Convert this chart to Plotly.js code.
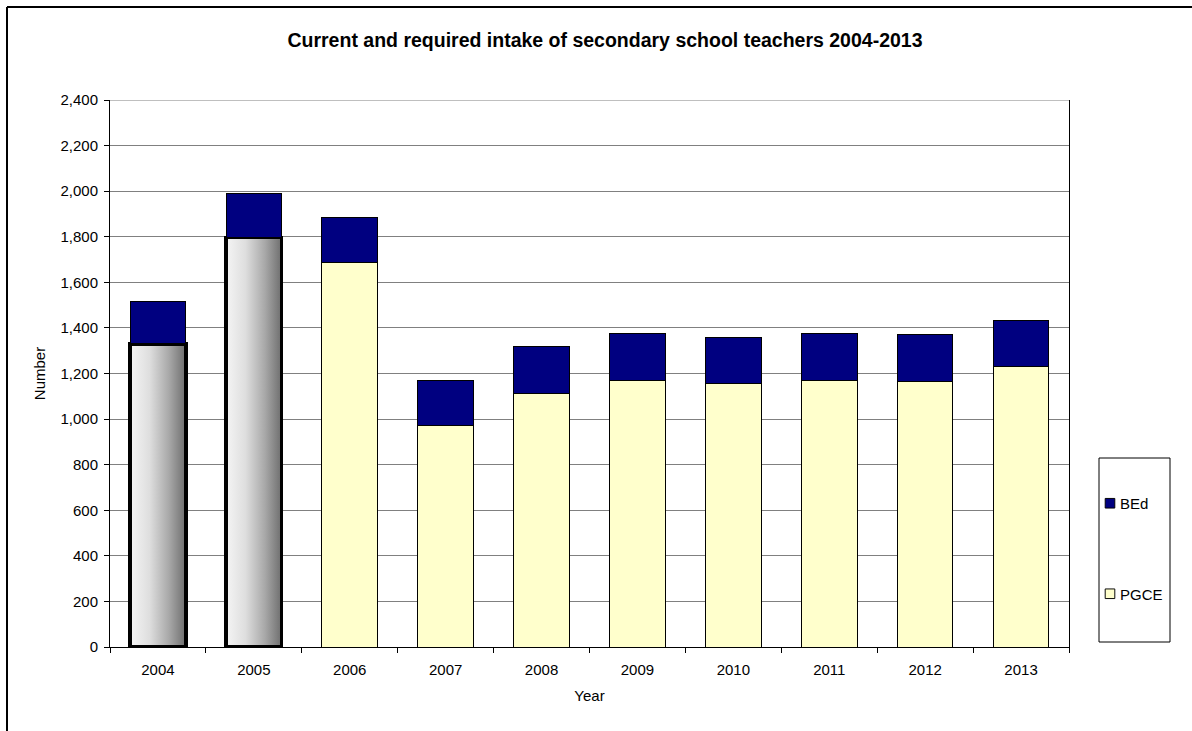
<!DOCTYPE html>
<html>
<head>
<meta charset="utf-8">
<script src="https://cdn.plot.ly/plotly-3.0.1.min.js"></script>
<style>
  html, body { margin: 0; padding: 0; background: #fff; overflow: hidden; }
  #chart { width: 1192px; height: 731px; }
</style>
</head>
<body>
<div id="chart"></div>
<script>
// ---- data ----
const years = ['2004', '2005', '2006', '2007', '2008', '2009', '2010', '2011', '2012', '2013'];
const pgce  = [1330, 1796, 1686, 970, 1114, 1169, 1158, 1169, 1167, 1231];
const bed   = [187, 194, 199, 201, 203, 205, 202, 205, 202, 201];
const currentYears = ['2004', '2005'];   // actual intake, drawn with gradient fill
const yTickVals = [0, 200, 400, 600, 800, 1000, 1200, 1400, 1600, 1800, 2000, 2200, 2400];

const FONT = 'Liberation Sans, Arial, sans-serif';
const FS = 15;
const PGCE_COLOR = '#FFFFCC';
const BED_COLOR = '#000080';
const isCurrent = years.map(y => currentYears.includes(y));

const tracePGCE = {
  type: 'bar', name: 'PGCE', x: years, y: pgce,
  legendgroup: 'p', legendrank: 2,
  marker: {
    color: isCurrent.map(c => c ? '#bdbdbd' : PGCE_COLOR),
    line: { color: '#000', width: isCurrent.map(c => c ? 3.5 : 1) }
  },
  hoverinfo: 'x+y+name'
};
const traceBEd = {
  type: 'bar', name: 'BEd', x: years, y: bed,
  legendgroup: 'b', legendrank: 1,
  marker: { color: BED_COLOR, line: { color: '#000', width: 1 } },
  hoverinfo: 'x+y+name'
};

// plot area pixels: l=110, r=1069, t=100, b=647
const PL = 110, PR = 1069, PT = 100, PB = 647;
const px2x = p => (p - PL) / (PR - PL);
const px2y = p => (PB - p) / (PB - PT);

const layout = {
  width: 1192, height: 731,
  margin: { l: PL, r: 1192 - PR, t: PT, b: 731 - PB, pad: 0 },
  paper_bgcolor: '#fff', plot_bgcolor: '#fff',
  font: { family: FONT, size: FS, color: '#000' },
  barmode: 'stack',
  bargap: 0.42,
  title: {
    text: '<b>Current and required intake of secondary school teachers 2004-2013</b>',
    font: { family: FONT, size: 19.5, color: '#000' },
    xref: 'container', x: 605 / 1192, xanchor: 'center',
    yref: 'container', y: 1 - 40 / 731, yanchor: 'middle'
  },
  xaxis: {
    type: 'category',
    showline: true, linecolor: '#000', linewidth: 1,
    mirror: false,
    ticks: 'outside', ticklen: 5, tickcolor: '#000', tickson: 'boundaries',
    ticklabelstandoff: 9,
    tickfont: { family: FONT, size: FS, color: '#000' },
    showgrid: false, zeroline: false,
    title: { text: 'Year', font: { family: FONT, size: FS, color: '#000' }, standoff: 13 }
  },
  yaxis: {
    range: [0, 2400],
    tickvals: yTickVals,
    ticktext: yTickVals.map(v => v.toLocaleString('en-US')),
    showline: true, linecolor: '#000', linewidth: 1, mirror: true,
    ticks: 'outside', ticklen: 5, tickcolor: '#000',
    ticklabelstandoff: 3,
    tickfont: { family: FONT, size: FS, color: '#000' },
    showgrid: true, gridcolor: '#808080', gridwidth: 1,
    zeroline: false,
    title: { text: 'Number', font: { family: FONT, size: FS, color: '#000' }, standoff: 11 }
  },
  showlegend: true,
  legend: {
    traceorder: 'grouped',
    x: px2x(1080), xanchor: 'left',
    y: px2y(487), yanchor: 'top',
    bgcolor: 'rgba(0,0,0,0)', borderwidth: 0,
    font: { family: FONT, size: FS, color: '#000' },
    tracegroupgap: 68,
    itemwidth: 30
  },
  shapes: [
    // outer chart frame (left and top edges; the rest runs off the image)
    { type: 'line', xref: 'paper', yref: 'paper',
      x0: px2x(7), x1: px2x(7), y0: px2y(731), y1: px2y(7),
      line: { color: '#000', width: 2 }, layer: 'below' },
    { type: 'line', xref: 'paper', yref: 'paper',
      x0: px2x(7), x1: px2x(1192), y0: px2y(7), y1: px2y(7),
      line: { color: '#000', width: 2 }, layer: 'below' },
    // top gridline at the highest tick
    { type: 'line', xref: 'paper', yref: 'y',
      x0: 0, x1: 1, y0: yTickVals[yTickVals.length - 1], y1: yTickVals[yTickVals.length - 1],
      line: { color: '#808080', width: 1 }, layer: 'below' },
    // legend box
    { type: 'rect', xref: 'paper', yref: 'paper',
      x0: px2x(1099), x1: px2x(1170), y0: px2y(642), y1: px2y(458),
      line: { color: '#000', width: 1 }, fillcolor: 'rgba(0,0,0,0)', layer: 'above' }
  ]
};

Plotly.newPlot('chart', [tracePGCE, traceBEd], layout, { displayModeBar: false, staticPlot: true })
  .then(gd => {
    // gradient fill for the "current" bars
    const svgNS = 'http://www.w3.org/2000/svg';
    const svg = gd.querySelector('.main-svg');
    let defs = svg.querySelector('defs');
    if (!defs) { defs = document.createElementNS(svgNS, 'defs'); svg.prepend(defs); }
    const grad = document.createElementNS(svgNS, 'linearGradient');
    grad.setAttribute('id', 'curGrad');
    grad.setAttribute('x1', '0'); grad.setAttribute('y1', '0');
    grad.setAttribute('x2', '1'); grad.setAttribute('y2', '0');
    [['0', '#f5f5f5'], ['0.35', '#dedede'], ['0.7', '#a8a8a8'], ['1', '#6e6e6e']].forEach(([o, c]) => {
      const s = document.createElementNS(svgNS, 'stop');
      s.setAttribute('offset', o); s.setAttribute('stop-color', c);
      grad.appendChild(s);
    });
    defs.appendChild(grad);
    const traces = gd.querySelectorAll('.barlayer .trace');
    const pts = traces[0].querySelectorAll('.point path');
    pts.forEach((p, i) => { if (isCurrent[i]) p.style.fill = 'url(#curGrad)'; });
    // legend symbols: series colour with a thin border, slightly smaller, nearer the text
    gd.querySelectorAll('.legend .traces').forEach(t => {
      const name = t.textContent.trim();
      const sym = t.querySelector('.legendpoints path');
      if (!sym) return;
      sym.style.fill = name === 'PGCE' ? PGCE_COLOR : BED_COLOR;
      sym.style.strokeWidth = '1.2px';
      sym.style.stroke = '#000';
      sym.setAttribute('transform', 'translate(30,0) scale(0.8)');
    });
  });
</script>
</body>
</html>
